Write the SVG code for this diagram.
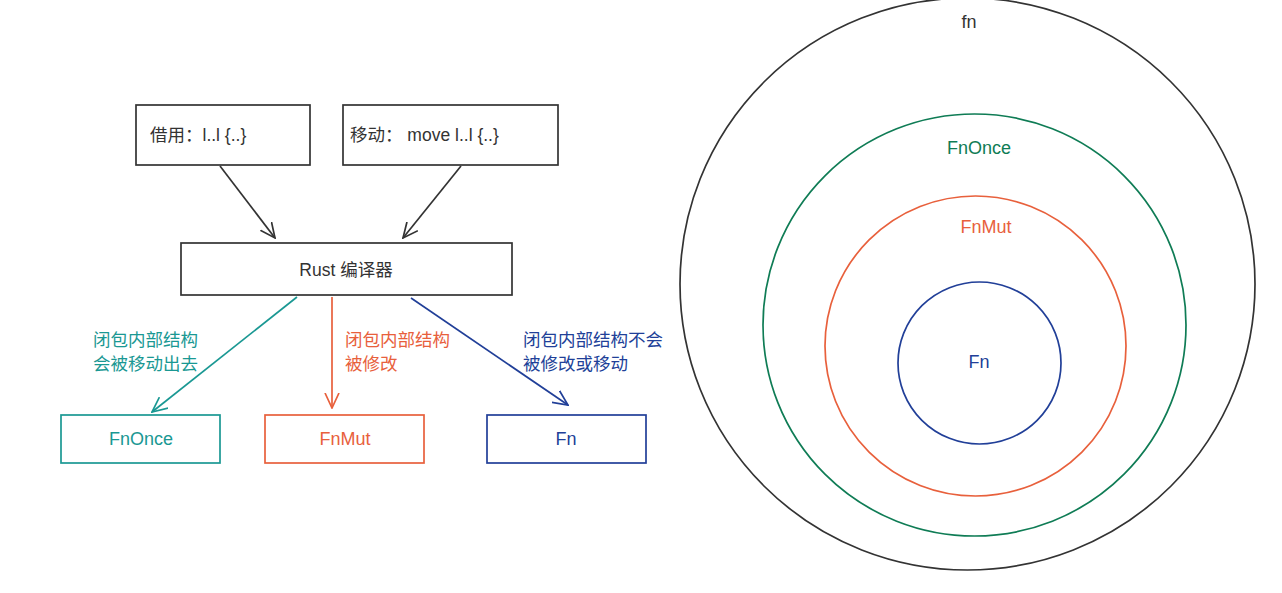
<svg xmlns="http://www.w3.org/2000/svg" width="1282" height="593" viewBox="0 0 1282 593">
<defs>
<style>
text{font-family:"Liberation Sans","Noto Sans CJK SC",sans-serif;font-size:17.5px}
.lat{font-size:18px}
.c{text-anchor:middle}
.box{fill:#fff;stroke-width:1.7}
.line{fill:none;stroke-width:1.7}
.dark{stroke:#333}
.teal{stroke:#1a9893}
.red{stroke:#e8603c}
.blue{stroke:#213f98}
.tdark{fill:#333}
.tteal{fill:#1a9893}
.tred{fill:#e8603c}
.tblue{fill:#213f98}
.tgreen{fill:#0f7c55}
.ring{fill:none;stroke-width:1.7}
</style>
<marker id="aDark" viewBox="0 0 16 16" refX="15" refY="8" markerWidth="16" markerHeight="16" markerUnits="userSpaceOnUse" orient="auto"><path d="M0,1 L15,8 L0,15" fill="none" stroke="#333" stroke-width="1.7"/></marker>
<marker id="aTeal" viewBox="0 0 16 16" refX="15" refY="8" markerWidth="16" markerHeight="16" markerUnits="userSpaceOnUse" orient="auto"><path d="M0,1 L15,8 L0,15" fill="none" stroke="#1a9893" stroke-width="1.7"/></marker>
<marker id="aRed" viewBox="0 0 16 16" refX="15" refY="8" markerWidth="16" markerHeight="16" markerUnits="userSpaceOnUse" orient="auto"><path d="M0,1 L15,8 L0,15" fill="none" stroke="#e8603c" stroke-width="1.7"/></marker>
<marker id="aBlue" viewBox="0 0 16 16" refX="15" refY="8" markerWidth="16" markerHeight="16" markerUnits="userSpaceOnUse" orient="auto"><path d="M0,1 L15,8 L0,15" fill="none" stroke="#213f98" stroke-width="1.7"/></marker>
</defs>
<rect width="1282" height="593" fill="#fff"/>

<g id="connectors">
<line class="line dark" x1="220" y1="166" x2="275" y2="238" marker-end="url(#aDark)"/>
<line class="line dark" x1="461" y1="166" x2="403" y2="238" marker-end="url(#aDark)"/>
<line class="line teal" x1="297" y1="297" x2="152" y2="412" marker-end="url(#aTeal)"/>
<line class="line red" x1="332" y1="297" x2="332" y2="408" marker-end="url(#aRed)"/>
<line class="line blue" x1="411" y1="298" x2="568" y2="405" marker-end="url(#aBlue)"/>
<text class="tteal" x="93" y="346">闭包内部结构</text>
<text class="tteal" x="93" y="370">会被移动出去</text>
<text class="tred" x="345" y="346">闭包内部结构</text>
<text class="tred" x="345" y="370">被修改</text>
<text class="tblue" x="523" y="346">闭包内部结构不会</text>
<text class="tblue" x="523" y="370">被修改或移动</text>
</g>

<g id="borrow">
<rect class="box dark" x="136" y="105" width="174" height="60"/>
<text class="tdark" x="150" y="141">借用：l..l {..}</text>
</g>
<g id="move">
<rect class="box dark" x="343" y="105" width="215" height="60"/>
<text class="tdark" x="350" y="141">移动：  move l..l {..}</text>
</g>
<g id="compiler">
<rect class="box dark" x="181" y="243" width="331" height="52"/>
<text class="tdark c" x="346" y="276">Rust 编译器</text>
</g>
<g id="fnonce">
<rect class="box teal" x="61" y="415" width="159" height="48"/>
<text class="tteal c lat" x="141" y="445">FnOnce</text>
</g>
<g id="fnmut">
<rect class="box red" x="265" y="415" width="159" height="48"/>
<text class="tred c lat" x="345" y="445">FnMut</text>
</g>
<g id="fn">
<rect class="box blue" x="487" y="415" width="159" height="48"/>
<text class="tblue c lat" x="566" y="445">Fn</text>
</g>

<g id="ring-fn-lower">
<ellipse class="ring" stroke="#333" cx="967.5" cy="284" rx="287.5" ry="286"/>
<text class="tdark c lat" x="969" y="28">fn</text>
</g>
<g id="ring-fnonce">
<ellipse class="ring" stroke="#0f7c55" cx="974.5" cy="325" rx="211.5" ry="211"/>
<text class="tgreen c lat" x="979" y="154">FnOnce</text>
</g>
<g id="ring-fnmut">
<ellipse class="ring" stroke="#e8603c" cx="975.5" cy="346" rx="150.5" ry="150"/>
<text class="tred c lat" x="986" y="233">FnMut</text>
</g>
<g id="ring-fn">
<ellipse class="ring" stroke="#213f98" cx="979.5" cy="363" rx="81.5" ry="81"/>
<text class="tblue c lat" x="979" y="368">Fn</text>
</g>
</svg>
